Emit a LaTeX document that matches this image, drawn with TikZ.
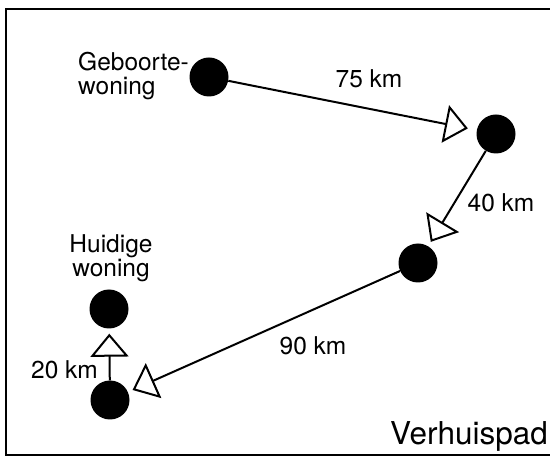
\documentclass[tikz,border=0pt]{standalone}
\usepackage{fontspec}
\setmainfont{TeX Gyre Heros}
\usetikzlibrary{arrows.meta}
\begin{document}
\begin{tikzpicture}[x=1pt,y=-1pt,
  house/.style={circle,fill=black,draw=none,minimum size=39pt,inner sep=0pt},
  lbl/.style={inner sep=0pt,font=\fontsize{24.5}{21}\selectfont},
  ttl/.style={inner sep=0pt,font=\fontsize{31.5}{31.5}\selectfont},
  move/.style={line width=2pt,
    -{Triangle[open,length=23pt,width=38pt,line width=2pt]}}]
  \useasboundingbox (0,0) rectangle (550,457);
  % frame (open on the right, cut by the page edge)
  \draw[line width=1.6pt] (552,9) -- (6,9) -- (6,455) -- (552,455);

  % houses along the route
  \node[house] (n1) at (209,77) {};
  \node[house] (n2) at (496,134) {};
  \node[house] (n3) at (418,263) {};
  \node[house] (n4) at (109,309) {};
  \node[house] (n5) at (110,400) {};

  % moves
  \draw[move,shorten >=9pt] (n1) -- (n2);
  \draw[move,shorten >=5pt] (n2) -- (n3);
  \draw[move,shorten >=5pt] (n3) -- (n5);
  \draw[move,shorten >=5pt] (n5) -- (n4);

  % labels
  \node[lbl,anchor=base west] (geb1) at (78,71) {Geboorte-};
  \node[lbl,anchor=base west] (geb2) at (78,95) {woning};
  \node[lbl,anchor=base] (hui1) at (111,253) {Huidige};
  \node[lbl,anchor=base] (hui2) at (111,277) {woning};
  \node[lbl,anchor=base] (d75) at (369,88) {75 km};
  \node[lbl,anchor=base] (d40) at (501,212) {40 km};
  \node[lbl,anchor=base] (d90) at (313,355) {90 km};
  \node[lbl,anchor=base] (d20) at (64.5,379) {20 km};
  \node[ttl,anchor=base east] (title) at (548,445) {Verhuispad};
\end{tikzpicture}
\end{document}
